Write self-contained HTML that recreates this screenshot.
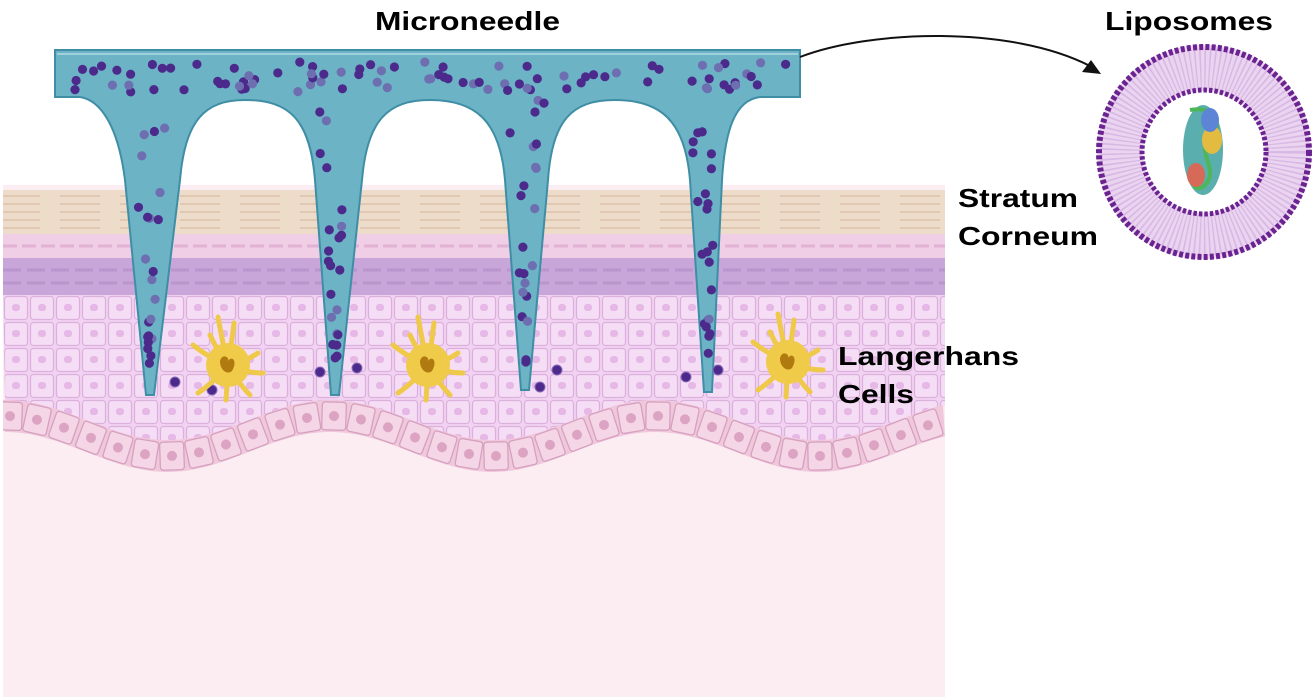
<!DOCTYPE html>
<html><head><meta charset="utf-8"><style>
html,body{margin:0;padding:0;background:#fff;}
svg{display:block}
text{font-family:"Liberation Sans",Arial,sans-serif;font-weight:bold;font-size:26px;fill:#000}
</style></head><body>
<svg id="s" width="1316" height="700" viewBox="0 0 1316 700" xmlns="http://www.w3.org/2000/svg">
<defs>
<pattern id="cells" width="26" height="26" patternUnits="userSpaceOnUse" x="3" y="295">
<rect width="26" height="26" fill="#f2d2f2"/>
<rect x="1.5" y="1.5" width="23" height="23" rx="3" fill="#f6ddf6" stroke="#dcb0dc" stroke-width="1.2"/>
<rect x="9" y="9" width="8" height="7" rx="3" fill="#e6b8e6"/>
</pattern>
<pattern id="sc" width="60" height="8" patternUnits="userSpaceOnUse">
<rect width="60" height="8" fill="#eedccb"/>
<path d="M0 4 H40" stroke="#dcc2ab" stroke-width="1.5"/>
</pattern>
<clipPath id="skinclip"><rect x="3" y="185" width="942" height="512"/></clipPath>
<clipPath id="nc"><path d="M55,50 H800 V97 H760 C735,100 725,130 722,180 L712,392 L704,392 L690,180 C685,120 660,100 615,100 C572,100 552,120 548,180 L529,390 L521,390 L505,180 C500,120 475,100 430,100 C388,100 367,120 362,180 L339,395 L331,395 L315,180 C310,120 290,100 245,100 C205,100 185,120 180,180 L154,395 L146,395 L125,180 C118,125 100,100 80,97 H55 Z"/></clipPath>
</defs>
<g clip-path="url(#skinclip)">
<rect x="3" y="185" width="942" height="512" fill="#fcedf3"/>
<rect x="3" y="190" width="942" height="46" fill="url(#sc)"/>
<rect x="3" y="234" width="942" height="26" fill="#f0cfe6"/>
<path d="M3 246 H945" stroke="#e2b2d4" stroke-width="3" stroke-dasharray="14 5"/>
<rect x="3" y="258" width="942" height="38" fill="#c8a6da"/>
<path d="M3 270 H945 M3 283 H945" stroke="#b996ce" stroke-width="3" stroke-dasharray="18 6"/>
<path id="spin" fill="url(#cells)"/>
<g id="basal"></g>
</g>
<path d="M55,50 H800 V97 H760 C735,100 725,130 722,180 L712,392 L704,392 L690,180 C685,120 660,100 615,100 C572,100 552,120 548,180 L529,390 L521,390 L505,180 C500,120 475,100 430,100 C388,100 367,120 362,180 L339,395 L331,395 L315,180 C310,120 290,100 245,100 C205,100 185,120 180,180 L154,395 L146,395 L125,180 C118,125 100,100 80,97 H55 Z" fill="#6db3c6" stroke="#3f8ea5" stroke-width="2"/>
<path d="M57,54 H798" stroke="#9fd0dc" stroke-width="2"/>
<g id="dots" clip-path="url(#nc)"></g>
<g id="odots"></g>
<g id="lc"></g>
<path d="M800,57 C870,30 1010,25 1090,66" fill="none" stroke="#111" stroke-width="2"/>
<path d="M1101,74 L1082,72 L1091,60 Z" fill="#111"/>
<circle cx="1204" cy="152" r="84" fill="none" stroke="#ead4f0" stroke-width="46"/>
<circle cx="1204" cy="152" r="84" fill="none" stroke="#d8b8e4" stroke-width="40" stroke-dasharray="1.5 3"/>
<circle cx="1204" cy="152" r="105" fill="none" stroke="#6a2390" stroke-width="6" stroke-dasharray="4 2.2"/>
<circle cx="1204" cy="152" r="62" fill="none" stroke="#6a2390" stroke-width="5" stroke-dasharray="3.5 2"/>
<g opacity="0.85">
<ellipse cx="1203" cy="150" rx="20" ry="45" fill="#3fa0a0"/>
<path d="M1190 110 C1215 105 1225 125 1210 140 C1195 150 1220 170 1205 185 C1195 195 1188 180 1195 170" stroke="#2faa3a" stroke-width="4" fill="none"/>
<ellipse cx="1212" cy="140" rx="10" ry="14" fill="#e0b020"/>
<ellipse cx="1196" cy="175" rx="9" ry="12" fill="#d0503a"/>
<ellipse cx="1210" cy="120" rx="9" ry="12" fill="#4070d0"/>
</g>
<text x="375" y="30" textLength="185" lengthAdjust="spacingAndGlyphs">Microneedle</text>
<text x="1105" y="30" textLength="168" lengthAdjust="spacingAndGlyphs">Liposomes</text>
<text x="958" y="207" textLength="120" lengthAdjust="spacingAndGlyphs">Stratum</text>
<text x="958" y="245" textLength="140" lengthAdjust="spacingAndGlyphs">Corneum</text>
<text x="838" y="365" textLength="181" lengthAdjust="spacingAndGlyphs">Langerhans</text>
<text x="838" y="403" textLength="76" lengthAdjust="spacingAndGlyphs">Cells</text>
</svg>
<script>
function topY(x){return 420-20*Math.cos(2*Math.PI*(x-5)/325);}
var pd="M3 295 H945 ";
for(var x=945;x>=3;x-=5){pd+="L"+x+" "+(topY(x)+1)+" ";}
document.getElementById("spin").setAttribute("d",pd+"Z");
var bg=document.getElementById("basal"),h="";
var bd="M3 "+topY(3);for(x=3;x<=945;x+=5)bd+=" L"+x+" "+topY(x);for(x=945;x>=3;x-=5)bd+=" L"+x+" "+(topY(x)+32);
h+='<path d="'+bd+'Z" fill="#f0c8dc"/>';
for(x=10;x<945;x+=27){var t=topY(x)+16,a=Math.atan(20*2*Math.PI/325*Math.sin(2*Math.PI*(x-5)/325))*180/Math.PI;
h+='<g transform="translate('+x+','+t+') rotate('+a+')"><rect x="-12" y="-14" width="24" height="28" rx="3" fill="#f5d6e6" stroke="#d6a0bf" stroke-width="1.3"/><circle r="5" fill="#dca4c2"/></g>';}
bg.innerHTML=h;
var seed=7;function rnd(){seed=(seed*16807)%2147483647;return seed/2147483647;}
var dh="";
function dot(x,y){var c=rnd()<0.7?"#4b2a8c":"#6d6fb0";dh+='<circle cx="'+x.toFixed(1)+'" cy="'+y.toFixed(1)+'" r="4.6" fill="'+c+'"/>';}
for(var i=0;i<90;i++){dot(75+rnd()*715,62+rnd()*30);}
[150,335,525,708].forEach(function(t){for(var i=0;i<22;i++){var y=100+rnd()*270;var w=Math.max(3,(380-y)/280*26);dot(t+(rnd()*2-1)*w*0.75,y);}});
document.getElementById("dots").innerHTML=dh;
var oh="";
[[175,382],[212,390],[320,372],[357,368],[540,387],[557,370],[686,377],[718,370]].forEach(function(p){oh+='<circle cx="'+p[0]+'" cy="'+p[1]+'" r="5" fill="#4b2a8c" stroke="#8a6ab8" stroke-width="1"/>';});
document.getElementById("odots").innerHTML=oh;
var lh="";
[[228,365],[428,365],[788,362]].forEach(function(p){
var s='<g transform="translate('+p[0]+','+p[1]+')">';
[[-10,-48],[6,-42],[30,-12],[35,8],[22,30],[-2,35],[-30,28],[-35,-20],[-18,-30]].forEach(function(q){s+='<path d="M0 0 Q'+q[0]*0.5+' '+(q[1]*0.5+4)+' '+q[0]+' '+q[1]+'" stroke="#efc94a" stroke-width="5" stroke-linecap="round" fill="none"/>';});
s+='<circle r="22" fill="#f0cb4a"/><path d="M-8 -4 C-6 -12 2 -8 0 -4 C4 -10 10 -4 4 6 C0 10 -8 6 -8 -4Z" fill="#b07a10"/></g>';lh+=s;});
document.getElementById("lc").innerHTML=lh;
</script>
</body></html>
